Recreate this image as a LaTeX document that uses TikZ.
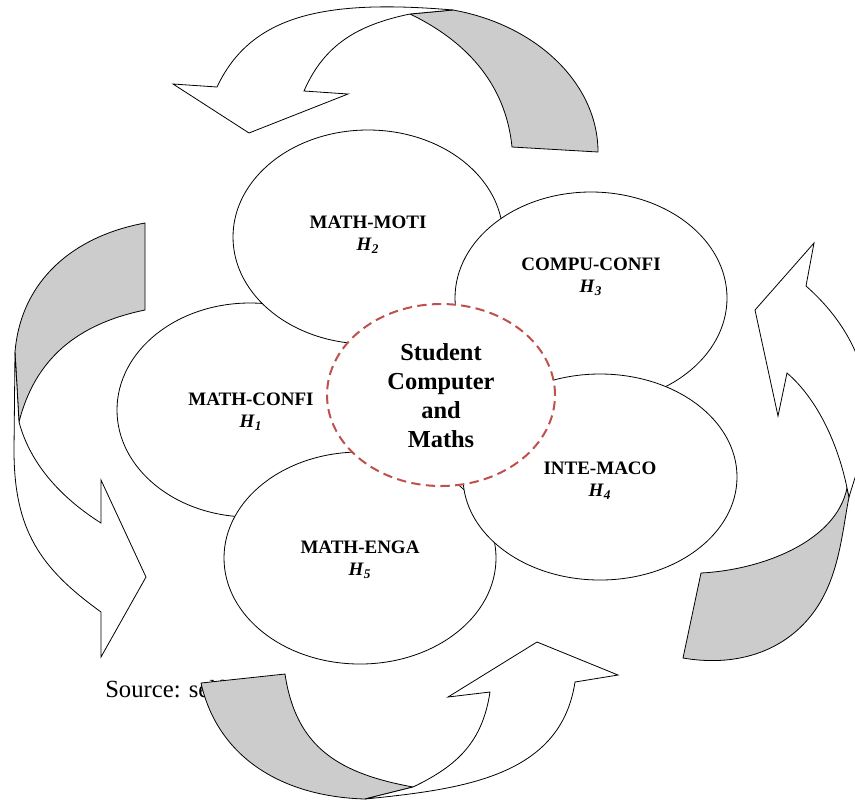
\documentclass[tikz,border=0pt]{standalone}
\usepackage{fontspec}
\setmainfont{Liberation Serif}
\usetikzlibrary{shapes.geometric}
\definecolor{hubred}{RGB}{192,80,77}
\definecolor{bandgrey}{RGB}{204,204,204}
\tikzset{
  bubble/.style={ellipse, draw=black, fill=white, line width=0.6pt, inner sep=0pt},
  lbl/.style={align=center, font=\fontsize{14.25}{16.5}\selectfont\bfseries},
  hub/.style={ellipse, draw=hubred, fill=white, line width=1.5pt, dash pattern=on 7pt off 4pt, inner sep=0pt},
  hubtext/.style={align=center, font=\fontsize{18.3}{21.75}\selectfont\bfseries},
  frontband/.style={draw=black, fill=white, line width=0.6pt, line join=miter},
  backband/.style={draw=black, fill=bandgrey, line width=0.6pt, line join=miter}
}
\newcommand{\hyp}[1]{\textit{H}\textsubscript{\textit{#1}}}
\begin{document}
\begin{tikzpicture}[x=0.75pt,y=-0.75pt]
\useasboundingbox (0,0) rectangle (855,801);
\clip (0,0) rectangle (855,801);
\fill[white] (0,0) rectangle (855,801);

% ---------- ellipses (back to front) ----------
\node[bubble, minimum width=199.5pt, minimum height=160.5pt] (e1) at (250,410) {};
\node[bubble, minimum width=202.5pt, minimum height=160.5pt] (e2) at (368,237) {};
\node[bubble, minimum width=204pt, minimum height=159pt] (e3) at (591,298) {};
\node[bubble, minimum width=204pt, minimum height=159pt] (e5) at (360,558) {};
\node[bubble, minimum width=205.5pt, minimum height=154.5pt] (e4) at (600,477) {};
\node[hub, minimum width=171pt, minimum height=136.5pt] (hub) at (441,395) {};

\node[lbl] (t1) at (251,412) {MATH-CONFI\\\hyp{1}};
\node[lbl] (t2) at (368,235) {MATH-MOTI\\\hyp{2}};
\node[lbl] (t3) at (591,277) {COMPU-CONFI\\\hyp{3}};
\node[lbl] (t4) at (600,481) {INTE-MACO\\\hyp{4}};
\node[lbl] (t5) at (360,560) {MATH-ENGA\\\hyp{5}};
\node[hubtext] (ht) at (441,396) {Student\\Computer\\and\\Maths};

% ---------- source text (partly hidden) ----------
\node[anchor=base west, inner sep=0pt, font=\fontsize{18.5}{22}\selectfont] (src) at (105,697) {Source: self};

% ---------- top curved arrow ----------
\filldraw[backband] (410,14) .. controls (464,40) and (505.5,82) .. (512,147)
  -- (598,152) .. controls (598,84) and (537,25) .. (453,10) -- cycle;
\filldraw[frontband] (217,87) .. controls (251,15) and (324,-1) .. (453,10)
  -- (410,14) .. controls (357,25) and (324,45) .. (304,91)
  -- (348,94) -- (249,133) -- (173,84) -- cycle;

% ---------- left curved arrow ----------
\filldraw[backband] (145,223) .. controls (74,236) and (21,280) .. (15,352)
  -- (19,422) .. controls (35,359) and (77,324) .. (145,310) -- cycle;
\filldraw[frontband] (15,352) -- (14,450) .. controls (14,530) and (40,568) .. (101,612)
  -- (101,657) -- (146,577) -- (101,480) -- (101,523)
  .. controls (63,499) and (30.7,465.6) .. (19,422) -- cycle;

% ---------- right curved arrow ----------
\filldraw[backband] (849,497) .. controls (842,532) and (839.4,577.8) .. (813,613)
  .. controls (782.4,653.8) and (733,666.7) .. (683,658)
  -- (701,573) .. controls (761,570) and (836,542) .. (847,488) -- cycle;
\filldraw[frontband] (806,286) .. controls (843.5,319) and (868,362) .. (868,412)
  .. controls (868,442) and (857.7,468) .. (849,497)
  -- (847,488) .. controls (838,444) and (817.4,399) .. (787,373)
  -- (778,416) -- (755,310) -- (814,243) -- cycle;

% ---------- bottom curved arrow ----------
\filldraw[backband] (201,683) .. controls (217.5,756) and (280,796.5) .. (365,799)
  -- (413,787) .. controls (339.5,773.5) and (296,748) .. (285,674) -- cycle;
\filldraw[frontband] (365,799) .. controls (464.5,789) and (560.75,776) .. (575,682)
  -- (618,675) -- (537,642) -- (448,697) -- (490,692)
  .. controls (482.5,741.5) and (458,765.5) .. (413,787) -- cycle;
\end{tikzpicture}
\end{document}
